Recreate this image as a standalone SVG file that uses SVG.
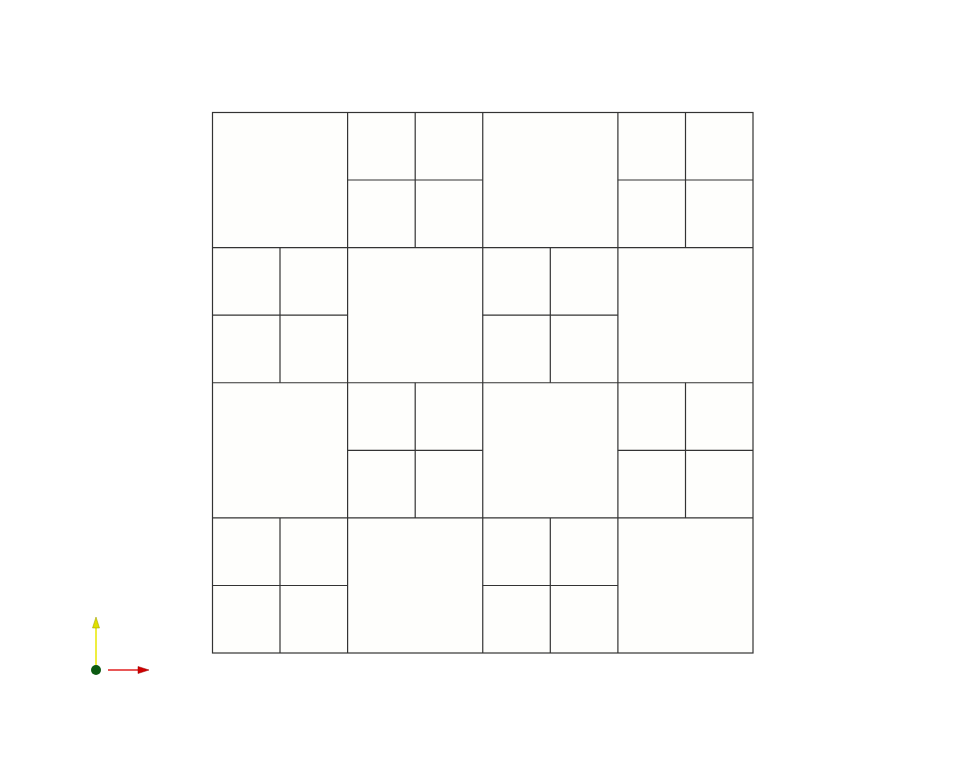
<svg xmlns="http://www.w3.org/2000/svg" width="966" height="766" viewBox="0 0 966 766">
<style>
.c{fill:#fefefc;stroke:#333;stroke-width:1.2}
</style>
<rect width="966" height="766" fill="#fff"/>
<g id="grid">
<rect class="c" x="212.5" y="112.5" width="540.5" height="540.5"/>
<g id="cells" fill="none" stroke="#333" stroke-width="1.2">
<!-- major lines -->
<line x1="347.6" y1="112.5" x2="347.6" y2="653"/>
<line x1="482.75" y1="112.5" x2="482.75" y2="653"/>
<line x1="617.9" y1="112.5" x2="617.9" y2="653"/>
<line x1="212.5" y1="247.6" x2="753" y2="247.6"/>
<line x1="212.5" y1="382.75" x2="753" y2="382.75"/>
<line x1="212.5" y1="517.9" x2="753" y2="517.9"/>
<!-- subdivisions row 0: cols 1,3 -->
<line x1="415.2" y1="112.5" x2="415.2" y2="247.6"/>
<line x1="347.6" y1="180" x2="482.75" y2="180"/>
<line x1="685.5" y1="112.5" x2="685.5" y2="247.6"/>
<line x1="617.9" y1="180" x2="753" y2="180"/>
<!-- row 1: cols 0,2 -->
<line x1="280" y1="247.6" x2="280" y2="382.75"/>
<line x1="212.5" y1="315.2" x2="347.6" y2="315.2"/>
<line x1="550.3" y1="247.6" x2="550.3" y2="382.75"/>
<line x1="482.75" y1="315.2" x2="617.9" y2="315.2"/>
<!-- row 2: cols 1,3 -->
<line x1="415.2" y1="382.75" x2="415.2" y2="517.9"/>
<line x1="347.6" y1="450.3" x2="482.75" y2="450.3"/>
<line x1="685.5" y1="382.75" x2="685.5" y2="517.9"/>
<line x1="617.9" y1="450.3" x2="753" y2="450.3"/>
<!-- row 3: cols 0,2 -->
<line x1="280" y1="517.9" x2="280" y2="653"/>
<line x1="212.5" y1="585.5" x2="347.6" y2="585.5"/>
<line x1="550.3" y1="517.9" x2="550.3" y2="653"/>
<line x1="482.75" y1="585.5" x2="617.9" y2="585.5"/>
</g>
</g>
<g id="axes">
<line x1="96" y1="670" x2="96" y2="626" stroke="#e8e800" stroke-width="1.5"/>
<polygon points="92.5,628 99.5,628 96,617" fill="#e0e000" stroke="#999900" stroke-width="0.5"/>
<line x1="108" y1="670" x2="140" y2="670" stroke="#e02020" stroke-width="1.5"/>
<polygon points="138,666.5 138,673.5 149,670" fill="#d00000" stroke="#900" stroke-width="0.5"/>
<circle cx="96" cy="670" r="5" fill="#0b5a12"/>
</g>
</svg>
